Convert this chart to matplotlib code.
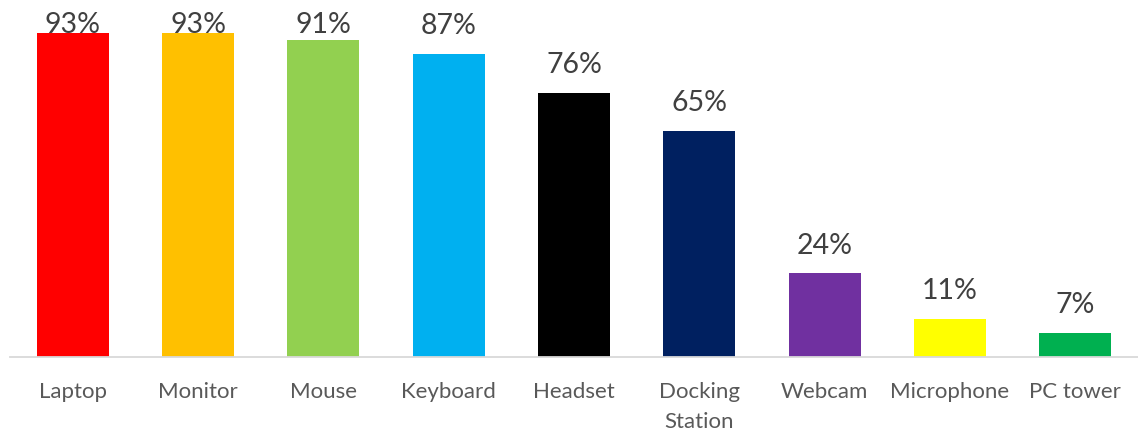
import matplotlib
matplotlib.use("Agg")
import matplotlib.pyplot as plt

categories = ["Laptop", "Monitor", "Mouse", "Keyboard", "Headset",
              "Docking\nStation", "Webcam", "Microphone", "PC tower"]
values = [93, 93, 91, 87, 76, 65, 24, 11, 7]
colors = ["#FF0000", "#FFC000", "#92D050", "#00B0F0", "#000000",
          "#002060", "#7030A0", "#FFFF00", "#00B050"]

plt.rcParams['font.family'] = ['Lato', 'DejaVu Sans']

fig = plt.figure(figsize=(11.38, 4.34), dpi=100)
ax = fig.add_axes([10/1138, 77/434, 1128/1138, 348/434])

x = list(range(len(categories)))
ax.bar(x, values, width=0.574, color=colors, zorder=2)
ax.set_xlim(-0.5, len(categories) - 0.5)
ax.set_ylim(0, 100)

ymax_label = 93.0
for i, v in enumerate(values):
    ax.text(i, min(v + 5.7, ymax_label), f"{v}%", ha='center', va='baseline',
            fontsize=20.5, color='#404040', zorder=3)

ax.set_xticks(x)
ax.set_xticklabels(categories, fontsize=16, color='#595959', linespacing=1.6)
ax.tick_params(axis='x', length=0, pad=18)
ax.set_yticks([])
for s in ['top', 'right', 'left']:
    ax.spines[s].set_visible(False)
ax.spines['bottom'].set_color('#D9D9D9')
ax.spines['bottom'].set_linewidth(1.3)

fig.savefig("out.png", dpi=100)
